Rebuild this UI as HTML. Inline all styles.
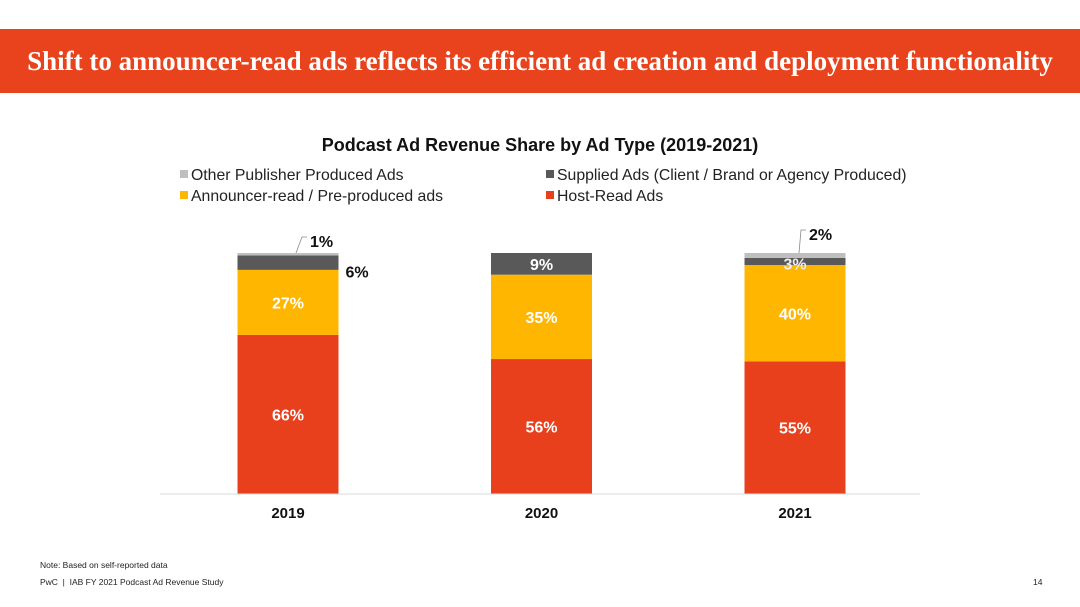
<!DOCTYPE html>
<html><head><meta charset="utf-8"><style>
body{margin:0;width:1080px;height:607px;background:#fff;overflow:hidden;position:relative;font-family:"Liberation Sans",Arial,sans-serif}
#hdr{position:absolute;left:0;top:29px;width:1080px;height:64px;background:#e8431d;color:#fff;font-family:"Liberation Serif",serif;font-weight:bold;font-size:27px;line-height:64px;text-align:center;white-space:nowrap}
.ft{position:absolute;font-size:8.5px;color:#222}
</style></head><body>
<div id="hdr">Shift to announcer-read ads reflects its efficient ad creation and deployment functionality</div>
<svg id="chart" width="1080" height="607" style="position:absolute;left:0;top:0">
<text x="540" y="151" text-anchor="middle" font-size="18" font-weight="bold" fill="#111">Podcast Ad Revenue Share by Ad Type (2019-2021)</text>
<g id="legend"></g>
<g id="bars"></g>
<line x1="160" y1="494" x2="920" y2="494" stroke="#d9d9d9" stroke-width="1"/>
</svg>
<div class="ft" style="left:40px;top:560px">Note: Based on self-reported data</div>
<div class="ft" style="left:40px;top:577px">PwC &nbsp;|&nbsp; IAB FY 2021 Podcast Ad Revenue Study</div>
<div class="ft" style="left:1033px;top:577px">14</div>
<script>
const years=["2019","2020","2021"];
const hostRead=[66,56,55];
const announcer=[27,35,40];
const supplied=[6,9,3];
const other=[1,0,2];
const seriesNames=["Host-Read Ads","Announcer-read / Pre-produced ads","Supplied Ads (Client / Brand or Agency Produced)","Other Publisher Produced Ads"];
const colors=["#e8401c","#ffb600","#595959","#bfbfbf"];
const NS="http://www.w3.org/2000/svg";
const base=494, top100=253, bw=101;
const y=v=>base-(v/100)*(base-top100);
const xc=i=>288+i*253.5;
function mk(tag,at,parent){const e=document.createElementNS(NS,tag);for(const k in at)e.setAttribute(k,at[k]);parent.appendChild(e);return e;}
const bars=document.getElementById('bars');
const series=[hostRead,announcer,supplied,other];
years.forEach((yr,i)=>{
  let cum=0;
  series.forEach((s,j)=>{
    const v=s[i]; if(v<=0) return;
    const r=mk('rect',{x:xc(i)-bw/2,y:y(cum+v),width:bw,height:y(cum)-y(cum+v),fill:colors[j]},bars);
    
    
    const mid=(y(cum)+y(cum+v))/2;
    let lx=xc(i),ly=mid+6,fill='#fff',anchor='middle';
    if(j==2&&v<8){ if(i==0){lx=xc(i)+bw/2+7;ly=mid+15;fill='#111';anchor='start';} else {fill='#eee';ly=mid+8;} }
    if(j==3){
      fill='#111';anchor='start';
      lx=xc(i)+(i==0?22:14); ly=(i==0?247:240);
      const bx=xc(i)+(i==0?8:4), by=y(cum+v);
      const ln=mk('polyline',{points:`${bx},${by} ${lx-8},${ly-10} ${lx-3},${ly-10}`,fill:'none',stroke:'#888','stroke-width':0.8},bars);
      
      
    }
    const t=mk('text',{x:lx,y:ly,'text-anchor':anchor,'font-size':16,'font-weight':'bold',fill:fill},bars);
    t.textContent=v+'%';
    
    
    cum+=v;
  });
  const t=mk('text',{x:xc(i),y:518,'text-anchor':'middle','font-size':15,'font-weight':'bold',fill:'#111'},bars);
  t.textContent=yr;
  
  
});
const lg=document.getElementById('legend');
[[180,180,3],[546,180,2],[180,201,1],[546,201,0]].forEach(([lx,ly,j])=>{
  const m=mk('rect',{x:lx,y:ly-10,width:8,height:8,fill:colors[j]},lg);
  
  
  const t=mk('text',{x:lx+11,y:ly,'font-size':15.8,fill:'#222'},lg);
  t.textContent=seriesNames[j];
  
  
});
</script>
</body></html>
